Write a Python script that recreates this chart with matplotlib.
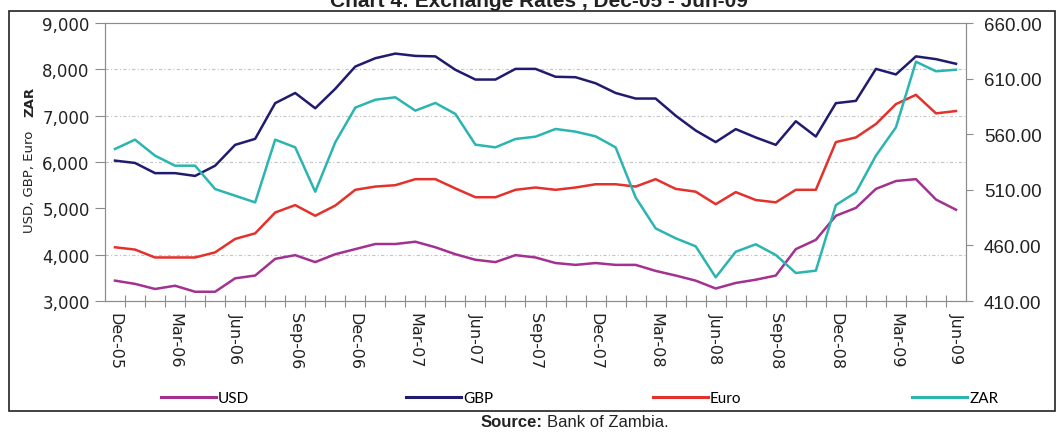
"""Exchange rates chart: USD, GBP, Euro (left axis) and ZAR (right axis), Dec-05 to Jun-09"""
import matplotlib
matplotlib.use("Agg")
import matplotlib.pyplot as plt
from matplotlib.lines import Line2D
from matplotlib.patches import Rectangle
from matplotlib.ticker import FixedLocator, FuncFormatter

# ───── Data (Kwacha per unit, monthly averages) ──────────────────────────────
MONTHS = [
    "Dec-05", "Jan-06", "Feb-06", "Mar-06", "Apr-06", "May-06", "Jun-06",
    "Jul-06", "Aug-06", "Sep-06", "Oct-06", "Nov-06", "Dec-06", "Jan-07",
    "Feb-07", "Mar-07", "Apr-07", "May-07", "Jun-07", "Jul-07", "Aug-07",
    "Sep-07", "Oct-07", "Nov-07", "Dec-07", "Jan-08", "Feb-08", "Mar-08",
    "Apr-08", "May-08", "Jun-08", "Jul-08", "Aug-08", "Sep-08", "Oct-08",
    "Nov-08", "Dec-08", "Jan-09", "Feb-09", "Mar-09", "Apr-09", "May-09",
    "Jun-09",
]

USD = [
    3440, 3370, 3260, 3330, 3200, 3200, 3490, 3550, 3910, 3990, 3840, 4010,
    4120, 4230, 4230, 4280, 4160, 4010, 3890, 3840, 3990, 3940, 3820, 3780,
    3820, 3780, 3780, 3650, 3550, 3440, 3270, 3390, 3460, 3550, 4120, 4320,
    4840, 5010, 5420, 5590, 5630, 5190, 4970,
]
GBP = [
    6030, 5980, 5760, 5760, 5700, 5920, 6370, 6500, 7270, 7490, 7160, 7580,
    8060, 8240, 8340, 8290, 8280, 7990, 7780, 7780, 8010, 8010, 7840, 7830,
    7700, 7490, 7370, 7370, 7000, 6680, 6430, 6710, 6530, 6370, 6880, 6550,
    7270, 7320, 8010, 7890, 8280, 8220, 8120,
]
EURO = [
    4160, 4110, 3940, 3940, 3940, 4050, 4340, 4460, 4910, 5070, 4840, 5060,
    5400, 5470, 5500, 5630, 5630, 5430, 5240, 5240, 5400, 5450, 5400, 5450,
    5520, 5520, 5470, 5630, 5420, 5360, 5090, 5350, 5180, 5130, 5400, 5400,
    6430, 6530, 6820, 7250, 7450, 7050, 7100,
]
ZAR = [
    546.7, 555.1, 540.7, 531.7, 531.7, 510.7, 504.7, 498.7, 555.1, 548.2,
    508.3, 552.7, 583.9, 591.0, 593.2, 581.2, 588.1, 578.2, 550.6, 548.2,
    555.7, 557.8, 564.7, 562.3, 558.1, 548.2, 503.2, 475.3, 466.4, 459.2,
    431.3, 454.3, 461.0, 451.4, 435.2, 437.3, 496.3, 507.7, 540.7, 566.2,
    625.2, 616.6, 618.0,
]

LEFT_TICKS = [3000, 4000, 5000, 6000, 7000, 8000, 9000]
GRID_LEVELS = [4000, 6000, 7000, 8000]
RIGHT_TICKS = [410, 460, 510, 560, 610, 660]

# ───── Style ─────────────────────────────────────────────────────────────────
COLORS = {
    "USD": "#a2318f",
    "GBP": "#201b6e",
    "Euro": "#e3312b",
    "ZAR": "#2bb5b1",
}
AXIS_GREY = "#8c8c8c"
NARROW = ["Liberation Sans Narrow", "Liberation Sans", "DejaVu Sans"]

plt.rcParams["font.family"] = ["DejaVu Sans"]

fig = plt.figure(figsize=(10.56, 4.35), dpi=100)
ax = fig.add_axes([0.0994, 0.3057, 0.8154, 0.6391])
ax2 = ax.twinx()

x = list(range(len(MONTHS)))

# ───── Lines ─────────────────────────────────────────────────────────────────
ax.plot(x, USD, color=COLORS["USD"], lw=1.8, zorder=3)
ax.plot(x, GBP, color=COLORS["GBP"], lw=1.8, zorder=3)
ax.plot(x, EURO, color=COLORS["Euro"], lw=1.8, zorder=3)
ax2.plot(x, ZAR, color=COLORS["ZAR"], lw=1.8, zorder=3)

# ───── Left axis ─────────────────────────────────────────────────────────────
ax.set_xlim(-0.5, len(MONTHS) - 0.5)
ax.set_ylim(LEFT_TICKS[0], LEFT_TICKS[-1])
ax.set_yticks(LEFT_TICKS)
ax.yaxis.set_major_formatter(FuncFormatter(lambda v, _: f"{v:,.0f}"))
ax.tick_params(axis="y", direction="out", length=7, width=0.8,
               color=AXIS_GREY, labelsize=12, pad=4, labelcolor="#222222")
for v in GRID_LEVELS:
    ax.axhline(v, color="#c4c4c4", lw=0.8, ls=(0, (3, 2, 1, 2)), zorder=1)

# x: labels every quarter, tick marks between months
ax.set_xticks(x[::3])
ax.set_xticklabels(MONTHS[::3], rotation=270, fontsize=11.5, color="#222222")
ax.xaxis.set_minor_locator(FixedLocator([i + 0.5 for i in x[:-1]]))
ax.tick_params(axis="x", which="major", length=0, pad=8)
ax.tick_params(axis="x", which="minor", direction="inout", length=9,
               width=0.8, color=AXIS_GREY)

# ───── Right axis (ZAR) ──────────────────────────────────────────────────────
ax2.set_ylim(RIGHT_TICKS[0], RIGHT_TICKS[-1])
ax2.set_yticks(RIGHT_TICKS)
ax2.yaxis.set_major_formatter(FuncFormatter(lambda v, _: f"{v:.2f}"))
ax2.tick_params(axis="y", direction="out", length=5, width=0.8,
                color=AXIS_GREY, pad=8, labelcolor="#222222")
for lbl in ax2.get_yticklabels():
    lbl.set_fontfamily(["Liberation Sans", "DejaVu Sans"])
    lbl.set_fontsize(13.5)

for a in (ax, ax2):
    for side in ("left", "right", "bottom", "top"):
        a.spines[side].set_color(AXIS_GREY)
        a.spines[side].set_linewidth(0.8)
ax.spines["top"].set_color("#c8c8c8")

# ───── Axis titles ───────────────────────────────────────────────────────────
fig.text(0.0284, 0.582, "USD, GBP, Euro", rotation=90, ha="center",
         va="center", fontsize=9.5, color="#222222")
fig.text(0.0284, 0.765, "ZAR", rotation=90, ha="center", va="center",
         fontsize=9.5, fontweight="bold", color="#222222")

# ───── Legend (one entry per slot, spread across the bottom) ─────────────────
legend_slots = [("USD", 0.152), ("GBP", 0.384), ("Euro", 0.618), ("ZAR", 0.864)]
for name, lx in legend_slots:
    handle = Line2D([], [], color=COLORS[name], lw=2.2, label=name)
    fig.legend(handles=[handle], loc="center left", bbox_to_anchor=(lx, 0.082),
               frameon=False, handlelength=3.6, handletextpad=0.15,
               borderaxespad=0, borderpad=0,
               prop={"family": ["Lato", "DejaVu Sans"], "size": 11})

# ───── Frame, title and source ───────────────────────────────────────────────
fig.patches.append(Rectangle((0.0085, 0.0529), 0.9905, 0.9195,
                             transform=fig.transFigure, fill=False,
                             edgecolor="#222222", lw=1.2))

fig.text(0.51, 1 - 7 / 435, "Chart 4: Exchange Rates , Dec-05 - Jun-09",
         ha="center", va="baseline", fontsize=15, fontweight="bold",
         family=NARROW, color="#222222")

src = fig.text(0.455, 0.028, "Source:", ha="left", va="center", fontsize=12,
               fontweight="bold", family=NARROW, color="#222222")
fig.canvas.draw()
bb = src.get_window_extent().transformed(fig.transFigure.inverted())
fig.text(bb.x1 + 0.004, 0.028, "Bank of Zambia.", ha="left", va="center",
         fontsize=12, family=NARROW, color="#222222")

fig.savefig("out.png", dpi=100)
